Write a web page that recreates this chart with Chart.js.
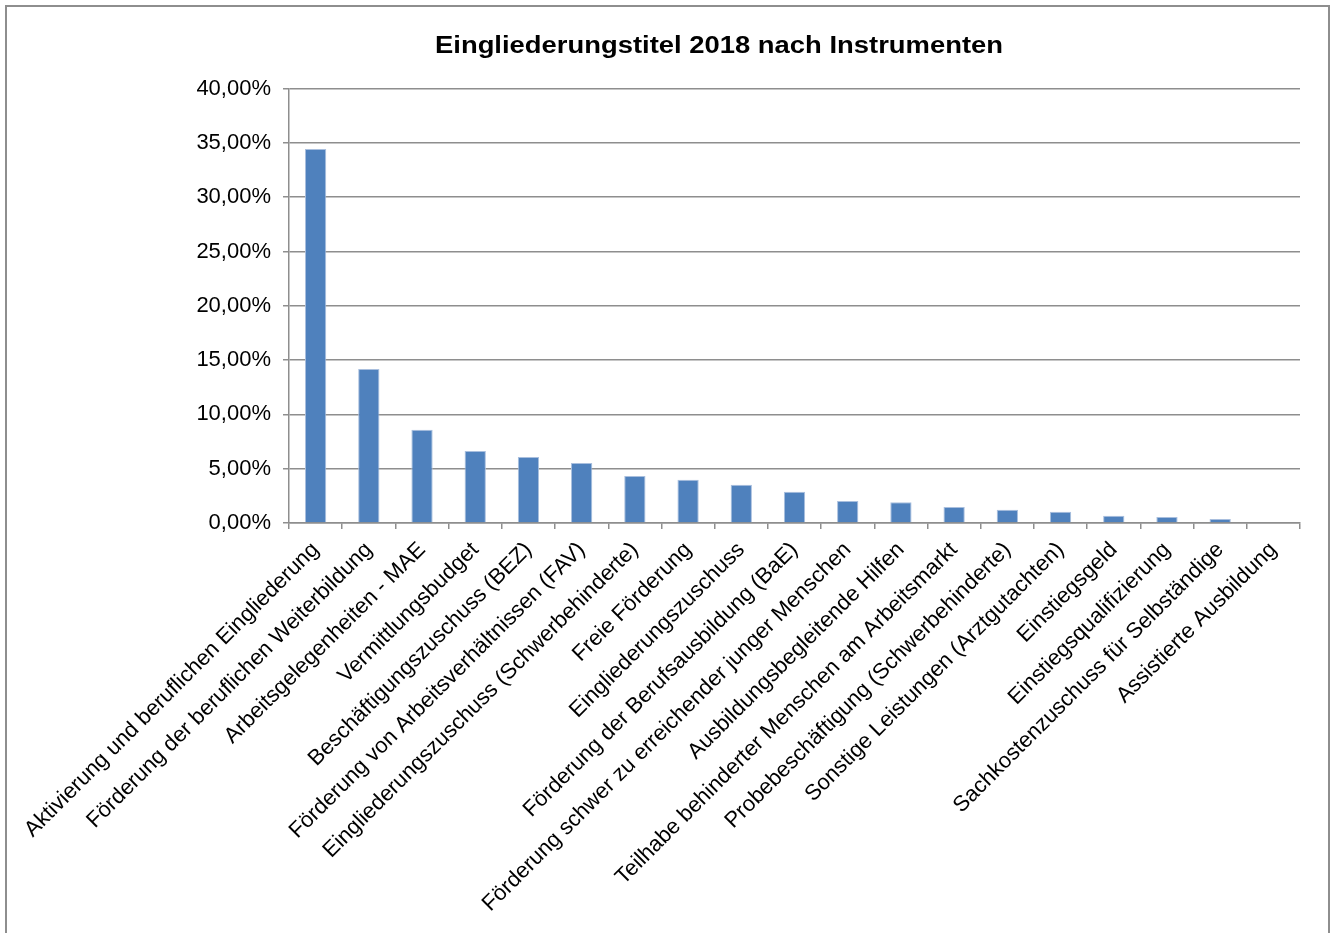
<!DOCTYPE html>
<html>
<head>
<meta charset="utf-8">
<script src="https://cdn.jsdelivr.net/npm/chart.js@4"></script>
<style>
    html, body { margin: 0; padding: 0; background: #fff; }
    #frame {
        position: absolute; left: 5px; top: 5px; width: 1321px; height: 940px;
        border: 2px solid #8e8e8e; border-bottom: none;
    }
    #wrap { position: absolute; left: 0; top: 0; width: 1333px; height: 933px; }
</style>
</head>
<body>
<div id="frame"></div>
<div id="wrap"><canvas id="chart"></canvas></div>
<script>
const categories = [
    'Aktivierung und beruflichen Eingliederung',
    'Förderung der beruflichen Weiterbildung',
    'Arbeitsgelegenheiten - MAE',
    'Vermittlungsbudget',
    'Beschäftigungszuschuss (BEZ)',
    'Förderung von Arbeitsverhältnissen (FAV)',
    'Eingliederungszuschuss (Schwerbehinderte)',
    'Freie Förderung',
    'Eingliederungszuschuss',
    'Förderung der Berufsausbildung (BaE)',
    'Förderung schwer zu erreichender junger Menschen',
    'Ausbildungsbegleitende Hilfen',
    'Teilhabe behinderter Menschen am Arbeitsmarkt',
    'Probebeschäftigung (Schwerbehinderte)',
    'Sonstige Leistungen (Arztgutachten)',
    'Einstiegsgeld',
    'Einstiegsqualifizierung',
    'Sachkostenzuschuss für Selbständige',
    'Assistierte Ausbildung'
];
const shares = [34.43, 14.17, 8.58, 6.62, 6.07, 5.52, 4.32, 3.98, 3.52, 2.87, 2.02, 1.90, 1.47, 1.22, 1.04, 0.67, 0.55, 0.37, 0.0];
const title = 'Eingliederungstitel 2018 nach Instrumenten';

const fontFamily = '"Liberation Sans", Arial, sans-serif';
const gridColour = '#8e8e8e';

// the title in the original is a bit wider than the font, so stretch it
const stretchedTitle = {
    id: 'stretchedTitle',
    afterDraw(chart) {
        const ctx = chart.ctx;
        ctx.save();
        ctx.font = 'bold 23px ' + fontFamily;
        ctx.fillStyle = '#000';
        ctx.textAlign = 'center';
        ctx.textBaseline = 'middle';
        const w = ctx.measureText(title).width;
        ctx.translate(719, 47);
        ctx.scale(568 / w, 1);
        ctx.fillText(title, 0, 0);
        ctx.restore();
    }
};

new Chart(document.getElementById('chart'), {
    type: 'bar',
    data: {
        labels: categories,
        datasets: [{
            data: shares,
            backgroundColor: '#4f81bd',
            borderColor: '#a9bfde',
            borderWidth: { top: 1, left: 1, right: 1, bottom: 0 },
            categoryPercentage: 1,
            barPercentage: 0.4
        }]
    },
    plugins: [stretchedTitle],
    options: {
        responsive: true,
        maintainAspectRatio: false,
        animation: false,
        layout: { padding: { left: 0, right: 33, top: 88.5, bottom: 0 } },
        plugins: {
            legend: { display: false },
            tooltip: { enabled: false },
            title: { display: false }
        },
        scales: {
            x: {
                grid: {
                    display: true,
                    offset: true,
                    drawOnChartArea: false,
                    drawTicks: true,
                    tickLength: 6,
                    color: gridColour,
                    lineWidth: 1.5
                },
                border: { color: gridColour, width: 1.5 },
                ticks: {
                    autoSkip: false,
                    minRotation: 45,
                    maxRotation: 45,
                    padding: 8,
                    color: '#000',
                    font: { family: fontFamily, size: 22 }
                },
                afterFit: (scale) => { scale.height = 410; }
            },
            y: {
                min: 0,
                max: 40,
                grid: {
                    color: gridColour,
                    lineWidth: 1.5,
                    tickLength: 6
                },
                border: { color: gridColour, width: 1.5 },
                ticks: {
                    stepSize: 5,
                    padding: 12,
                    color: '#000',
                    font: { family: fontFamily, size: 22 },
                    callback: (v) => v.toFixed(2).replace('.', ',') + '%'
                },
                afterFit: (scale) => { scale.width = 289; }
            }
        }
    }
});
</script>
</body>
</html>
